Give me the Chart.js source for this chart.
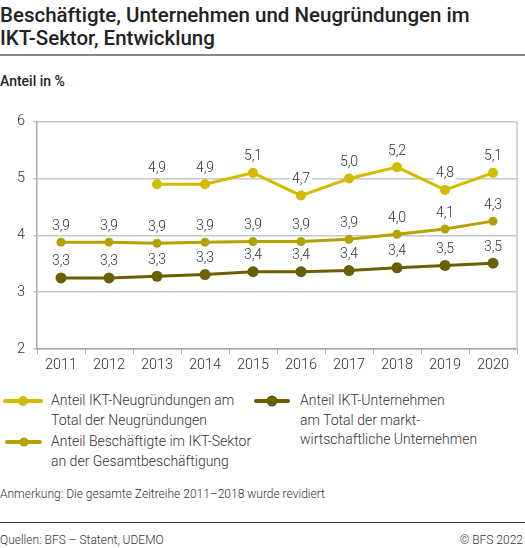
<!DOCTYPE html>
<html>
<head>
<meta charset="utf-8">
<script src="https://cdn.jsdelivr.net/npm/chart.js@4"></script>
<style>
  body { margin: 0; width: 525px; height: 548px; background: #fff; font-family: Roboto, sans-serif; color: #333; position: relative; overflow: hidden; }
  .title { position: absolute; left: 0; top: 4px; width: 525px; font-size: 20.5px; font-weight: 500; line-height: 23px; color: #222; }
  .title-rule { position: absolute; left: 0; top: 54px; width: 525px; height: 2px; background: #888; }
  .unit { position: absolute; left: 0; top: 73px; font-size: 14px; font-weight: 500; color: #222; }
  #wrap { position: absolute; left: 0; top: 105px; width: 525px; height: 272px; }
  .leg { position: absolute; font-size: 14px; font-weight: 300; line-height: 19.5px; color: #333; }
  .sw { position: absolute; height: 4px; border-radius: 2px; }
  .sw i { position: absolute; top: 50%; left: 50%; border-radius: 50%; transform: translate(-50%, -50%); }
  .note { position: absolute; left: 0; top: 487px; font-size: 12px; font-weight: 300; color: #333; }
  .foot-rule { position: absolute; left: 0; top: 522px; width: 525px; height: 1px; background: #333; }
  .foot { position: absolute; top: 533px; font-size: 12px; font-weight: 300; color: #333; }
</style>
</head>
<body>
<div class="title">Beschäftigte, Unternehmen und Neugründungen im<br>IKT-Sektor, Entwicklung</div>
<div class="title-rule"></div>
<div class="unit">Anteil in %</div>
<div id="wrap"><canvas id="ictChart"></canvas></div>

<div class="sw" style="left:3px; top:399px; width:40px; background:#d2bc00;"><i style="width:10px;height:10px;background:#d2bc00;"></i></div>
<div class="leg" style="left:51px; top:391px;">Anteil IKT-Neugründungen am<br>Total der Neugründungen</div>
<div class="sw" style="left:5px; top:440px; width:37px; background:#b3a200;"><i style="width:9px;height:9px;background:#b3a200;"></i></div>
<div class="leg" style="left:51px; top:432px;">Anteil Beschäftigte im IKT-Sektor<br>an der Gesamtbeschäftigung</div>
<div class="sw" style="left:254px; top:399px; width:36px; background:#6b5f00;"><i style="width:11px;height:11px;background:#6b5f00;"></i></div>
<div class="leg" style="left:300px; top:391px;">Anteil IKT-Unternehmen<br>am Total der markt-<br>wirtschaftliche Unternehmen</div>

<div class="note">Anmerkung: Die gesamte Zeitreihe 2011–2018 wurde revidiert</div>
<div class="foot-rule"></div>
<div class="foot" style="left:0;">Quellen: BFS – Statent, UDEMO</div>
<div class="foot" style="right:2px;">© BFS 2022</div>

<script>
// Jahre (x-Achse)
var years = ['2011', '2012', '2013', '2014', '2015', '2016', '2017', '2018', '2019', '2020'];

// Werte (in %)
var neugruendungen = [null, null, 4.9, 4.9, 5.1, 4.7, 5.0, 5.2, 4.8, 5.1];
var beschaeftigte = [3.88, 3.88, 3.86, 3.88, 3.89, 3.89, 3.93, 4.02, 4.11, 4.25];
var unternehmen = [3.25, 3.25, 3.28, 3.31, 3.36, 3.36, 3.38, 3.43, 3.47, 3.51];

// y-Achse
var yTicks = [2, 3, 4, 5, 6];

// Datenbeschriftung mit weissem Hintergrund
var valueLabels = {
    id: 'valueLabels',
    afterDatasetsDraw: function (chart) {
        var ctx = chart.ctx;
        ctx.save();
        ctx.font = '300 14px Roboto, sans-serif';
        ctx.textAlign = 'center';
        ctx.textBaseline = 'middle';
        chart.data.datasets.forEach(function (ds, i) {
            var meta = chart.getDatasetMeta(i);
            meta.data.forEach(function (pt, j) {
                var v = ds.data[j];
                if (v === null) return;
                var txt = v.toFixed(1).replace('.', ',');
                var w = ctx.measureText(txt).width;
                var y = pt.y - 16;
                ctx.fillStyle = '#fff';
                ctx.fillRect(pt.x - w / 2 - 2, y - 7, w + 4, 14);
                ctx.fillStyle = '#333';
                ctx.fillText(txt, pt.x, y);
            });
        });
        ctx.restore();
    }
};

// rechter Rahmen
var rightBorder = {
    id: 'rightBorder',
    beforeDatasetsDraw: function (chart) {
        var a = chart.chartArea, ctx = chart.ctx;
        ctx.save();
        ctx.strokeStyle = '#c8c8c8';
        ctx.lineWidth = 1.5;
        ctx.beginPath();
        ctx.moveTo(a.right, a.top);
        ctx.lineTo(a.right, a.bottom);
        ctx.stroke();
        ctx.restore();
    }
};

var ctx = document.getElementById('ictChart').getContext('2d');
var ictChart = new Chart(ctx, {
    type: 'line',
    data: {
        labels: years,
        datasets: [
            {
                label: 'Anteil IKT-Neugründungen am Total der Neugründungen',
                data: neugruendungen,
                borderColor: '#d2bc00',
                backgroundColor: '#d2bc00',
                borderWidth: 3,
                pointRadius: 5,
                pointBorderWidth: 0,
                spanGaps: false
            },
            {
                label: 'Anteil Beschäftigte im IKT-Sektor an der Gesamtbeschäftigung',
                data: beschaeftigte,
                borderColor: '#b3a200',
                backgroundColor: '#b3a200',
                borderWidth: 3,
                pointRadius: 4.5,
                pointBorderWidth: 0
            },
            {
                label: 'Anteil IKT-Unternehmen am Total der marktwirtschaftliche Unternehmen',
                data: unternehmen,
                borderColor: '#6b5f00',
                backgroundColor: '#6b5f00',
                borderWidth: 3,
                pointRadius: 5.5,
                pointBorderWidth: 0
            }
        ]
    },
    options: {
        responsive: true,
        maintainAspectRatio: false,
        animation: false,
        layout: { padding: { top: 15, right: 8, left: 0, bottom: 0 } },
        plugins: {
            legend: { display: false },
            tooltip: { enabled: false }
        },
        scales: {
            x: {
                offset: true,
                grid: { offset: true, drawOnChartArea: false, drawTicks: true, tickLength: 5, color: '#aaa' },
                border: { color: '#aaa', width: 1.5 },
                ticks: { color: '#333', font: { family: 'Roboto', size: 14.5, weight: '300' }, padding: 3, maxRotation: 0 },
                afterFit: function (scale) { scale.height = 28; }
            },
            y: {
                min: 2,
                max: 6,
                afterBuildTicks: function (scale) {
                    scale.ticks = yTicks.map(function (v) { return { value: v }; });
                },
                grid: { color: '#c8c8c8', lineWidth: 1.5, tickLength: 4, drawTicks: true },
                border: { color: '#aaa', width: 1.5 },
                ticks: { color: '#333', font: { family: 'Roboto', size: 14.5, weight: '300' }, padding: 8 },
                afterFit: function (scale) { scale.width = 37; }
            }
        }
    },
    plugins: [rightBorder, valueLabels]
});
</script>
</body>
</html>
